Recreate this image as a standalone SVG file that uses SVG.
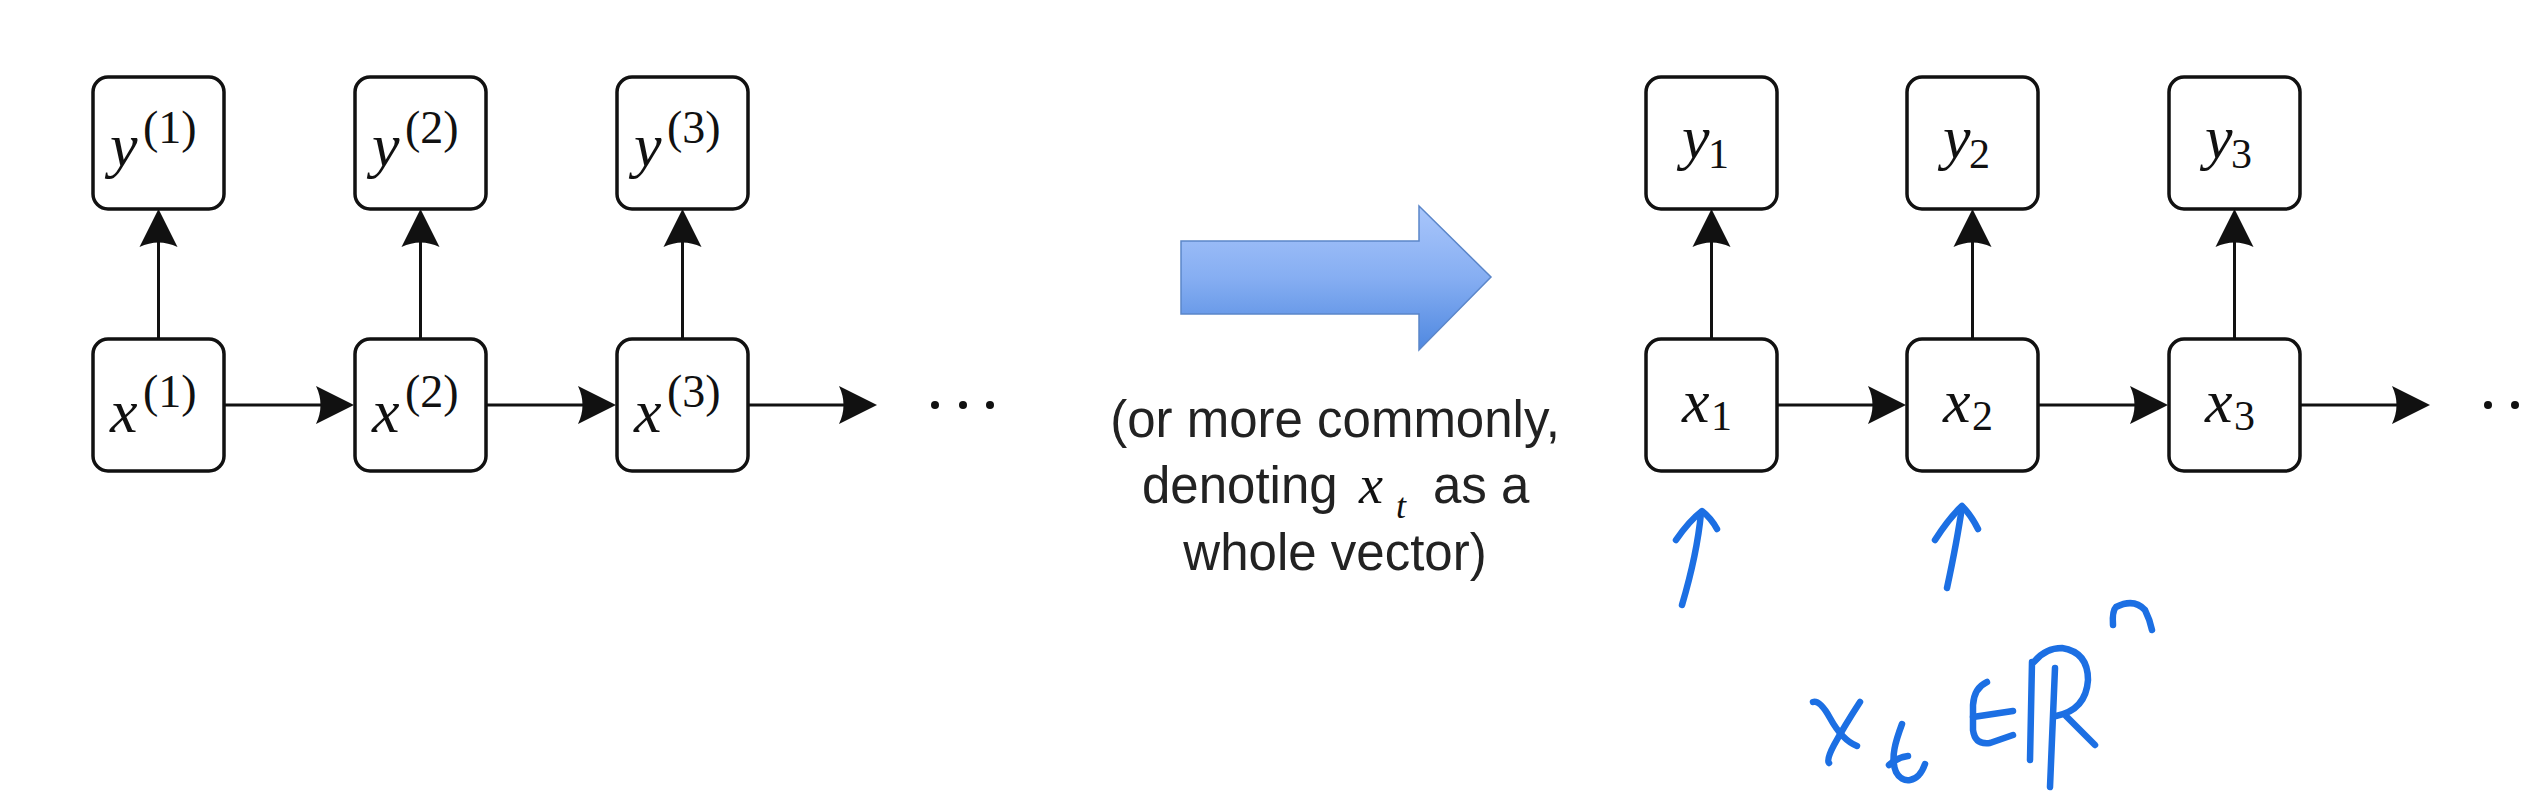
<svg xmlns="http://www.w3.org/2000/svg" width="2526" height="802" viewBox="0 0 2526 802">
  <style>
    .box { fill: #ffffff; stroke: #111111; stroke-width: 3.5; }
    .conn { stroke: #111111; stroke-width: 3; fill: none; }
    .mi { font-family: "Liberation Serif", "DejaVu Serif", serif; font-style: italic; font-size: 62px; fill: #111111; }
    .sup { font-family: "Liberation Serif", "DejaVu Serif", serif; font-size: 46px; fill: #111111; }
    .sub { font-family: "Liberation Serif", "DejaVu Serif", serif; font-size: 42px; fill: #111111; }
    .cap { font-family: "Liberation Sans", Arial, sans-serif; font-size: 51px; fill: #222222; }
    .ink { fill: none; stroke: #1c6fe3; stroke-width: 6.5; stroke-linecap: round; stroke-linejoin: round; }
    .dot { fill: #111111; }
  </style>
  <defs>
    <marker id="ah" viewBox="-32 -20 44 40" refX="0" refY="0" markerWidth="44" markerHeight="40" markerUnits="userSpaceOnUse" orient="auto">
      <path d="M10,0 L-28,-19 Q-19,0 -28,19 Z" fill="#111111"/>
    </marker>
    <linearGradient id="blueGrad" x1="0" y1="0" x2="0" y2="1">
      <stop offset="0" stop-color="#a9c6fb"/>
      <stop offset="0.5" stop-color="#86aef2"/>
      <stop offset="1" stop-color="#4f88e0"/>
    </linearGradient>
  </defs>

  <rect x="0" y="0" width="2526" height="802" fill="#ffffff"/>

  <!-- connectors -->
  <g id="connectors">
    <line class="conn" x1="158.5" y1="339" x2="158.5" y2="219" marker-end="url(#ah)"/>
    <line class="conn" x1="420.5" y1="339" x2="420.5" y2="219" marker-end="url(#ah)"/>
    <line class="conn" x1="682.5" y1="339" x2="682.5" y2="219" marker-end="url(#ah)"/>
    <line class="conn" x1="224" y1="405" x2="344" y2="405" marker-end="url(#ah)"/>
    <line class="conn" x1="486" y1="405" x2="606" y2="405" marker-end="url(#ah)"/>
    <line class="conn" x1="748" y1="405" x2="867" y2="405" marker-end="url(#ah)"/>

    <line class="conn" x1="1711.5" y1="339" x2="1711.5" y2="219" marker-end="url(#ah)"/>
    <line class="conn" x1="1972.5" y1="339" x2="1972.5" y2="219" marker-end="url(#ah)"/>
    <line class="conn" x1="2234.5" y1="339" x2="2234.5" y2="219" marker-end="url(#ah)"/>
    <line class="conn" x1="1777" y1="405" x2="1896" y2="405" marker-end="url(#ah)"/>
    <line class="conn" x1="2038" y1="405" x2="2158" y2="405" marker-end="url(#ah)"/>
    <line class="conn" x1="2300" y1="405" x2="2420" y2="405" marker-end="url(#ah)"/>
  </g>

  <!-- left diagram nodes -->
  <g id="node-y1" transform="translate(93,77)">
    <rect class="box" width="131" height="132" rx="15"/>
    <text class="mi" x="17" y="89">y</text><text class="sup" x="50" y="66">(1)</text>
  </g>
  <g id="node-y2" transform="translate(355,77)">
    <rect class="box" width="131" height="132" rx="15"/>
    <text class="mi" x="17" y="89">y</text><text class="sup" x="50" y="66">(2)</text>
  </g>
  <g id="node-y3" transform="translate(617,77)">
    <rect class="box" width="131" height="132" rx="15"/>
    <text class="mi" x="17" y="89">y</text><text class="sup" x="50" y="66">(3)</text>
  </g>
  <g id="node-x1" transform="translate(93,339)">
    <rect class="box" width="131" height="132" rx="15"/>
    <text class="mi" x="17" y="93">x</text><text class="sup" x="50" y="68">(1)</text>
  </g>
  <g id="node-x2" transform="translate(355,339)">
    <rect class="box" width="131" height="132" rx="15"/>
    <text class="mi" x="17" y="93">x</text><text class="sup" x="50" y="68">(2)</text>
  </g>
  <g id="node-x3" transform="translate(617,339)">
    <rect class="box" width="131" height="132" rx="15"/>
    <text class="mi" x="17" y="93">x</text><text class="sup" x="50" y="68">(3)</text>
  </g>
  <g id="dots-left">
    <circle class="dot" cx="935" cy="405" r="4"/>
    <circle class="dot" cx="963" cy="405" r="4"/>
    <circle class="dot" cx="990" cy="405" r="4"/>
  </g>

  <!-- big blue arrow -->
  <g id="big-arrow">
    <polygon points="1181,241 1419,241 1419,206 1491,277 1419,350 1419,314 1181,314" fill="url(#blueGrad)" stroke="#5b86c9" stroke-width="1.5"/>
  </g>

  <!-- caption -->
  <g id="caption">
    <text class="cap" x="1335" y="437" text-anchor="middle">(or more commonly,</text>
    <text class="cap" x="1142" y="503">denoting</text>
    <text class="mi" x="1359" y="503" style="font-size:54px">x</text>
    <text class="mi" x="1396" y="518" style="font-size:36px">t</text>
    <text class="cap" x="1433" y="503">as a</text>
    <text class="cap" x="1335" y="570" text-anchor="middle">whole vector)</text>
  </g>

  <!-- right diagram nodes -->
  <g id="node-ry1" transform="translate(1646,77)">
    <rect class="box" width="131" height="132" rx="15"/>
    <text class="mi" x="36" y="81">y</text><text class="sub" x="62" y="91">1</text>
  </g>
  <g id="node-ry2" transform="translate(1907,77)">
    <rect class="box" width="131" height="132" rx="15"/>
    <text class="mi" x="36" y="81">y</text><text class="sub" x="62" y="91">2</text>
  </g>
  <g id="node-ry3" transform="translate(2169,77)">
    <rect class="box" width="131" height="132" rx="15"/>
    <text class="mi" x="36" y="81">y</text><text class="sub" x="62" y="91">3</text>
  </g>
  <g id="node-rx1" transform="translate(1646,339)">
    <rect class="box" width="131" height="132" rx="15"/>
    <text class="mi" x="36" y="83">x</text><text class="sub" x="65" y="91">1</text>
  </g>
  <g id="node-rx2" transform="translate(1907,339)">
    <rect class="box" width="131" height="132" rx="15"/>
    <text class="mi" x="36" y="83">x</text><text class="sub" x="65" y="91">2</text>
  </g>
  <g id="node-rx3" transform="translate(2169,339)">
    <rect class="box" width="131" height="132" rx="15"/>
    <text class="mi" x="36" y="83">x</text><text class="sub" x="65" y="91">3</text>
  </g>
  <g id="dots-right">
    <circle class="dot" cx="2488" cy="405" r="4"/>
    <circle class="dot" cx="2515" cy="405" r="4"/>
  </g>

  <!-- handwritten annotation -->
  <g id="handwriting">
    <path class="ink" d="M1682,605 C1690,578 1698,545 1701,513"/>
    <path class="ink" d="M1676,540 Q1689,521 1702,511 Q1711,518 1717,529"/>
    <path class="ink" d="M1947,588 C1953,560 1958,535 1962,507"/>
    <path class="ink" d="M1935,540 Q1949,518 1962,506 Q1971,515 1978,529"/>
    <!-- x -->
    <path class="ink" d="M1813,702 Q1820,700 1830,718 Q1842,740 1857,746"/>
    <path class="ink" d="M1860,702 Q1845,725 1834,745 Q1826,760 1829,763"/>
    <!-- t -->
    <path class="ink" d="M1902,724 C1896,740 1890,758 1896,772 C1902,784 1918,784 1925,764"/>
    <path class="ink" d="M1889,765 Q1898,757 1908,756"/>
    <!-- element-of -->
    <path class="ink" d="M1987,682 Q1974,688 1973,705 L1973,730 Q1975,745 1990,743 L2013,735"/>
    <path class="ink" d="M1973,717 L2013,711"/>
    <!-- blackboard R -->
    <path class="ink" d="M2032,662 L2030,760"/>
    <path class="ink" d="M2055,668 L2050,787"/>
    <path class="ink" d="M2034,662 Q2045,648 2062,648 Q2088,652 2088,680 Q2086,710 2056,716"/>
    <path class="ink" d="M2066,716 Q2080,730 2095,745"/>
    <!-- n -->
    <path class="ink" d="M2113,625 Q2112,611 2116,607 Q2134,598 2145,610 Q2150,620 2152,630"/>
  </g>
</svg>
